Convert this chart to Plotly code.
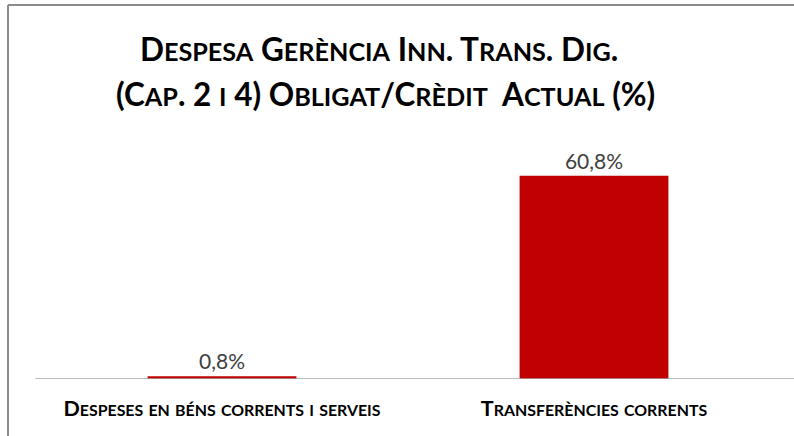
import re
import plotly.graph_objects as go

categories = ["Despeses en béns corrents i serveis", "Transferències corrents"]
values = [0.8, 60.8]
title_lines = ["Despesa Gerència Inn. Trans. Dig.", "(Cap. 2 i 4) Obligat/Crèdit  Actual (%)"]

BAR_COLOR = "#C00000"
FONT = "Lato"

# plot area geometry (pixels)
W, H = 794, 436
ML, MR, MT, MB = 36, 14, 145, 57
PW, PH = W - ML - MR, H - MT - MB


def small_caps(text, size, ratio):
    """Render lowercase runs as reduced-size capitals."""
    def repl(m):
        return '<span style="font-size:%.1fpx">%s</span>' % (size * ratio, m.group(0).upper())
    return re.sub(r"[a-zà-ÿ]+", repl, text)


def px_x(x):
    return (x - ML) / PW


def px_y(y):
    return 1 + (MT - y) / PH


tick_size = 21.5
tick_text = [small_caps(c, tick_size, 0.74) for c in categories]

fig = go.Figure(
    go.Bar(
        x=categories,
        y=values,
        marker=dict(color=BAR_COLOR, line=dict(width=0)),
        texttemplate="%{y:.1f}%",
        textposition="outside",
        textfont=dict(family=FONT, size=21, color="#404040"),
        cliponaxis=False,
        width=0.4,
    )
)

title_size = 31.5
title_centers = [49, 94]
annotations = [
    dict(
        text="<b>" + small_caps(line, title_size, 0.8) + "</b>",
        xref="paper", yref="paper",
        x=px_x(cx), y=px_y(yc),
        xanchor="center", yanchor="middle",
        showarrow=False,
        font=dict(family=FONT, size=title_size, color="#000000"),
    )
    for line, cx, yc in zip(title_lines, [379, 385], title_centers)
]

fig.update_layout(
    width=W,
    height=H,
    margin=dict(l=ML, r=MR, t=MT, b=MB),
    paper_bgcolor="white",
    plot_bgcolor="white",
    separators=",.",
    showlegend=False,
    annotations=annotations,
    xaxis=dict(
        showline=False,
        showgrid=False,
        ticks="",
        tickmode="array",
        tickvals=categories,
        ticktext=["<b>" + t + "</b>" for t in tick_text],
        ticklabelstandoff=14,
        tickfont=dict(family=FONT, size=tick_size, color="#000000"),
    ),
    yaxis=dict(
        range=[0, 70],
        visible=False,
        showgrid=False,
        zeroline=False,
    ),
    shapes=[
        # category axis baseline
        dict(type="line", xref="paper", yref="y", x0=-0.001, x1=1.02, y0=0, y1=0,
             line=dict(color="#a6a6a6", width=1.5)),
        # chart frame (top and left edges)
        dict(type="line", xref="paper", yref="paper", x0=px_x(8), x1=px_x(800),
             y0=px_y(5), y1=px_y(5), line=dict(color="#8c8c8c", width=2)),
        dict(type="line", xref="paper", yref="paper", x0=px_x(8), x1=px_x(8),
             y0=px_y(5), y1=px_y(440), line=dict(color="#8c8c8c", width=2)),
    ],
)

fig.write_html("out.html")
